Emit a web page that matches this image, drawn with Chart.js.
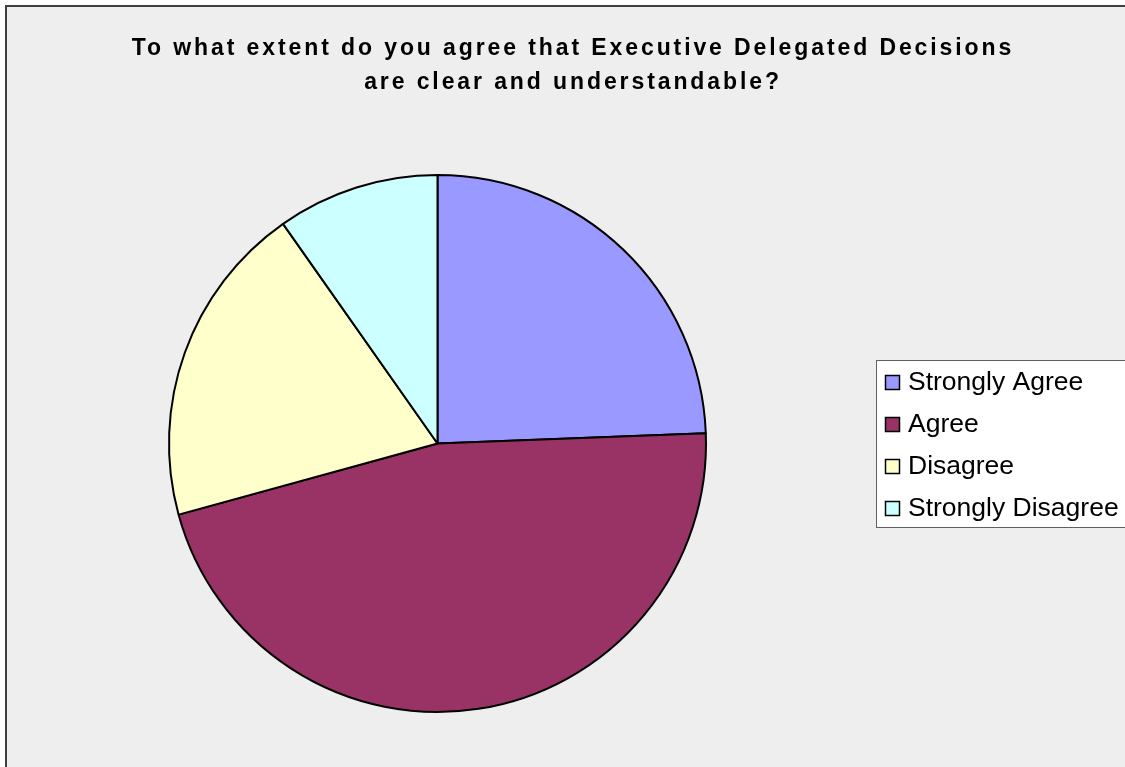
<!DOCTYPE html>
<html>
<head>
<meta charset="utf-8">
<title>Executive Delegated Decisions</title>
<script src="https://cdn.jsdelivr.net/npm/chart.js@4.4.0/dist/chart.umd.min.js"></script>
<style>
  html, body { margin: 0; padding: 0; background: #ffffff; }
  canvas { display: block; }
</style>
</head>
<body>
<canvas id="pieChart" width="1125" height="767"></canvas>
<script>
// survey answers
var categories = ['Strongly Agree', 'Agree', 'Disagree', 'Strongly Disagree'];
var responses = [10, 19, 8, 4];
var sliceColors = ['#9999FF', '#993366', '#FFFFCC', '#CCFFFF'];
var titleLines = ['To what extent do you agree that Executive Delegated Decisions',
                  'are clear and understandable?'];

// grey chart area with the dark frame on the left and top
var backdrop = {
    id: 'backdrop',
    beforeDraw: function (chart) {
        var ctx = chart.ctx;
        ctx.save();
        ctx.fillStyle = '#ffffff';
        ctx.fillRect(0, 0, chart.width, chart.height);
        ctx.fillStyle = '#EEEEEE';
        ctx.fillRect(6, 6, chart.width - 6, chart.height - 6);
        ctx.strokeStyle = '#404040';
        ctx.lineWidth = 2;
        ctx.beginPath();
        ctx.moveTo(6, chart.height);
        ctx.lineTo(6, 6);
        ctx.lineTo(chart.width, 6);
        ctx.stroke();
        ctx.restore();
    }
};

// two-line spaced bold title
var spacedTitle = {
    id: 'spacedTitle',
    afterDraw: function (chart) {
        var ctx = chart.ctx;
        ctx.save();
        ctx.fillStyle = '#000000';
        ctx.font = 'bold 23px "Liberation Sans", Arial, sans-serif';
        ctx.letterSpacing = '2.9px';
        ctx.textAlign = 'center';
        ctx.textBaseline = 'alphabetic';
        ctx.fillText(titleLines[0], 573, 55);
        ctx.fillText(titleLines[1], 573, 89);
        ctx.restore();
    }
};

// boxed legend on the right
var boxLegend = {
    id: 'boxLegend',
    afterDraw: function (chart) {
        var ctx = chart.ctx;
        var ds = chart.data.datasets[0];
        ctx.save();
        ctx.fillStyle = '#ffffff';
        ctx.fillRect(876, 360, 260, 167);
        ctx.strokeStyle = '#606060';
        ctx.lineWidth = 1;
        ctx.strokeRect(876.5, 360.5, 260, 167);
        ctx.font = '26.5px "Liberation Sans", Arial, sans-serif';
        ctx.textBaseline = 'alphabetic';
        ctx.textAlign = 'left';
        chart.data.labels.forEach(function (label, i) {
            var base = 390 + i * 42;
            ctx.fillStyle = ds.backgroundColor[i];
            ctx.fillRect(885.5, base - 14.5, 14, 14);
            ctx.strokeStyle = '#000000';
            ctx.lineWidth = 1.5;
            ctx.strokeRect(885.5, base - 14.5, 14, 14);
            ctx.fillStyle = '#000000';
            ctx.fillText(label, 908, base);
        });
        ctx.restore();
    }
};

var ctx = document.getElementById('pieChart').getContext('2d');
var pie = new Chart(ctx, {
    type: 'pie',
    data: {
        labels: categories,
        datasets: [{
            data: responses,
            backgroundColor: sliceColors,
            borderColor: '#000000',
            borderWidth: 2
        }]
    },
    options: {
        responsive: false,
        animation: false,
        layout: {
            padding: { left: 168, right: 418, top: 174, bottom: 54 }
        },
        plugins: {
            legend: { display: false },
            title: { display: false },
            tooltip: { enabled: false }
        }
    },
    plugins: [backdrop, spacedTitle, boxLegend]
});
</script>
</body>
</html>
